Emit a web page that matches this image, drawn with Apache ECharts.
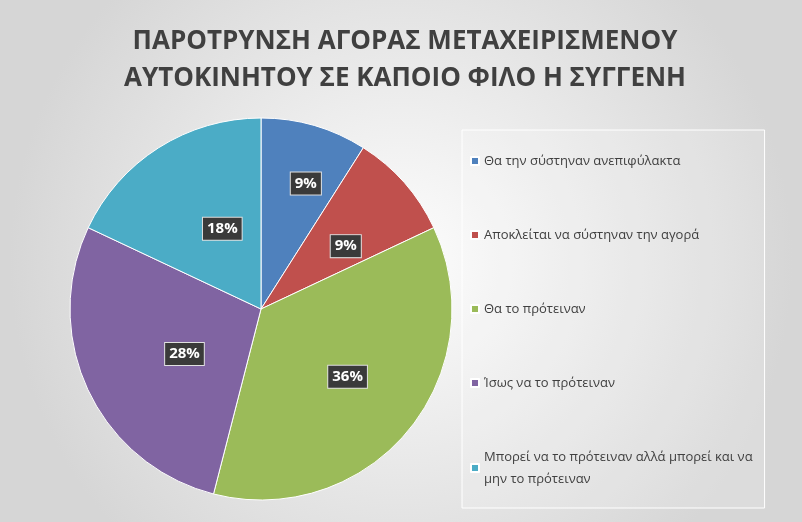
<!DOCTYPE html>
<html><head><meta charset="utf-8">
<script src="https://cdn.jsdelivr.net/npm/echarts@6/dist/echarts.min.js"></script>
<style>html,body{margin:0;padding:0}#c{width:802px;height:522px}</style>
</head><body><div id="c"></div>
<script>
const categories=['Θα την σύστηναν ανεπιφύλακτα','Αποκλείται να σύστηναν την αγορά','Θα το πρότειναν','Ίσως να το πρότειναν','Μπορεί να το πρότειναν αλλά μπορεί και να μην το πρότειναν'];
const values=[9,9,36,28,18];
const colors=['#4f81bd','#c0504d','#9bbb59','#8064a2','#4bacc6'];
const labelOffsets=[[20,-40],[18,-4],[18,11],[4,7],[9,-5]];
const data=categories.map((n,i)=>({name:n,value:values[i]}));
const labelData=categories.map((n,i)=>({name:n,value:values[i],label:{offset:labelOffsets[i]}}));
const chart=echarts.init(document.getElementById('c'));
chart.setOption({
  backgroundColor:{type:'radial',x:0.5,y:0.5,r:0.75,colorStops:[{offset:0,color:'#fdfdfd'},{offset:1,color:'#d6d6d6'}]},
  color:colors,
  title:{text:'ΠΑΡΟΤΡΥΝΣΗ ΑΓΟΡΑΣ ΜΕΤΑΧΕΙΡΙΣΜΕΝΟΥ\nΑΥΤΟΚΙΝΗΤΟΥ ΣΕ ΚΑΠΟΙΟ ΦΙΛΟ Η ΣΥΓΓΕΝΗ',left:400,top:18,textAlign:'center',
    textStyle:{fontFamily:'Open Sans',fontSize:26,fontWeight:'bold',color:'#404040',lineHeight:37}},
  legend:{orient:'vertical',left:462,top:130,itemWidth:8,itemHeight:8,itemGap:52,icon:'rect',
    backgroundColor:'rgba(255,255,255,0.15)',borderColor:'#ffffff',borderWidth:1,
    padding:[20,12,18,8],
    formatter:n=>n.startsWith('Μπορεί')?'Μπορεί να το πρότειναν αλλά μπορεί και να\nμην το πρότειναν':n,
    textStyle:{fontFamily:'Open Sans',fontSize:13,color:'#404040',lineHeight:22},data:categories},
  series:[
    {type:'pie',center:[261,309],radius:[0,191],startAngle:90,clockwise:true,data:data,
     itemStyle:{borderColor:'#ffffff',borderWidth:1},label:{show:false},labelLine:{show:false},silent:true},
    {type:'pie',center:[261,309],radius:[0,172],startAngle:90,clockwise:true,data:labelData,silent:true,
     itemStyle:{color:'rgba(0,0,0,0)'},legendHoverLink:false,
     label:{show:true,position:'inside',formatter:'{c}%',color:'#fff',fontFamily:'Open Sans',fontWeight:'bold',fontSize:15,
       backgroundColor:'#3a3a3a',padding:[4,4,3,4],borderColor:'#e0e0e0',borderWidth:1},labelLine:{show:false}}
  ]
});
</script></body></html>
